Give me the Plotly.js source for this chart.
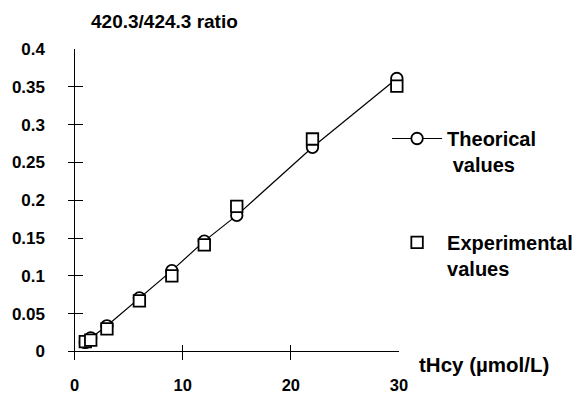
<!DOCTYPE html>
<html>
<head>
<meta charset="utf-8">
<script src="https://cdn.plot.ly/plotly-3.0.1.min.js"></script>
<style>html,body{margin:0;padding:0;background:#fff;}#chart{width:582px;height:394px;}</style>
</head>
<body>
<div id="chart"></div>
<script>
// Data
const concentration = [1.0, 1.5, 3.0, 6.0, 9.0, 12.0, 15.0, 22.0, 29.8];
const theoricalRatio = [0.012, 0.018, 0.034, 0.071, 0.107, 0.146, 0.180, 0.270, 0.361];
const experimentalRatio = [0.013, 0.015, 0.030, 0.067, 0.100, 0.141, 0.192, 0.281, 0.351];
const xTicks = [0, 10, 20, 30];
const yTicks = [0, 0.05, 0.1, 0.15, 0.2, 0.25, 0.3, 0.35, 0.4];
const yTickText = ['0', '0.05', '0.1', '0.15', '0.2', '0.25', '0.3', '0.35', '0.4'];

const FONT = '"Liberation Sans", Arial, sans-serif';

const traces = [
  {
    x: concentration, y: theoricalRatio, type: 'scatter', mode: 'lines+markers',
    name: '<b>Theorical</b><br><b> values</b>', legend: 'legend', cliponaxis: false,
    line: {color: '#000', width: 1.2},
    marker: {symbol: 'circle', size: 11.5, color: '#fff', line: {color: '#000', width: 1.8}}
  },
  {
    x: concentration, y: experimentalRatio, type: 'scatter', mode: 'markers',
    name: '<b>Experimental</b><br><b>values</b>', legend: 'legend2', cliponaxis: false,
    marker: {symbol: 'square', size: 11.5, color: '#fff', line: {color: '#000', width: 1.8}}
  }
];

const layout = {
  width: 582, height: 394,
  margin: {l: 68, r: 183, t: 49, b: 34, autoexpand: false},
  paper_bgcolor: '#fff', plot_bgcolor: '#fff',
  font: {family: FONT, color: '#000', size: 16},
  showlegend: true,
  xaxis: {
    range: [-0.6, 30], tickvals: xTicks, ticktext: xTicks.map(v => '<b>' + v + '</b>'),
    ticks: 'inside', ticklen: 15, tickwidth: 1, tickcolor: '#000',
    showline: false, showgrid: false,
    zeroline: true, zerolinecolor: '#000', zerolinewidth: 1,
    ticklabelstandoff: 13, tickfont: {family: FONT, size: 16.5, color: '#000'}
  },
  yaxis: {
    range: [-0.0112, 0.4], tickvals: yTicks, ticktext: yTickText.map(v => '<b>' + v + '</b>'),
    ticks: 'inside', ticklen: 15, tickwidth: 1, tickcolor: '#000',
    showline: false, showgrid: false,
    zeroline: true, zerolinecolor: '#000', zerolinewidth: 1,
    ticklabelstandoff: 22, tickfont: {family: FONT, size: 17, color: '#000'}
  },
  legend: {
    x: 0.964, y: 0.775, xanchor: 'left', yanchor: 'top', valign: 'top',
    itemwidth: 50, bgcolor: 'rgba(0,0,0,0)', borderwidth: 0,
    font: {family: FONT, size: 20, color: '#000'}
  },
  legend2: {
    x: 0.964, y: 0.441, xanchor: 'left', yanchor: 'top', valign: 'top',
    itemwidth: 50, bgcolor: 'rgba(0,0,0,0)', borderwidth: 0,
    font: {family: FONT, size: 20, color: '#000'}
  },
  annotations: [
    {text: '<b>420.3/424.3 ratio</b>', xref: 'paper', yref: 'paper', x: 0.0635, y: 1.087,
     xanchor: 'left', yanchor: 'middle', showarrow: false, font: {family: FONT, size: 19, color: '#000'}},
    {text: '<b>tHcy (µmol/L)</b>', xref: 'paper', yref: 'paper', x: 1.054, y: -0.016,
     xanchor: 'left', yanchor: 'middle', showarrow: false, font: {family: FONT, size: 20.5, color: '#000'}}
  ]
};

Plotly.newPlot('chart', traces, layout, {displayModeBar: false, staticPlot: true});
</script>
</body>
</html>
